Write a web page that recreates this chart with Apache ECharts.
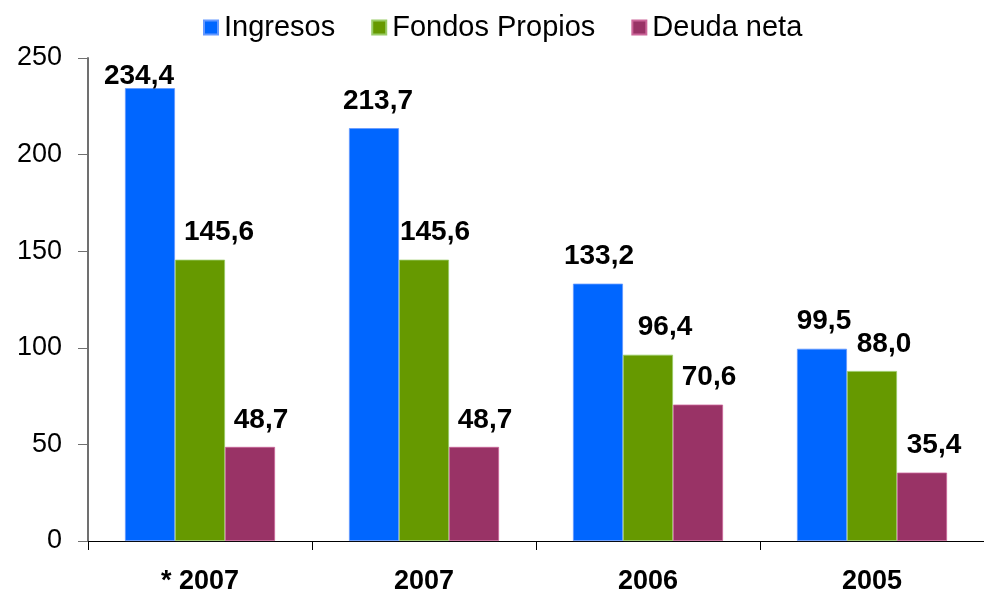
<!DOCTYPE html>
<html>
<head>
<meta charset="utf-8">
<script src="https://cdn.jsdelivr.net/npm/echarts@6/dist/echarts.min.js"></script>
<style>
html,body{margin:0;padding:0;background:#fff}
#main{width:984px;height:595px}
</style>
</head>
<body>
<div id="main"></div>
<script>
'use strict'
// datos
var categorias = ['* 2007', '2007', '2006', '2005']
var ingresos = [234.4, 213.7, 133.2, 99.5]
var fondosPropios = [145.6, 145.6, 96.4, 88.0]
var deudaNeta = [48.7, 48.7, 70.6, 35.4]
var yTicks = [0, 50, 100, 150, 200, 250]

// desplazamiento de etiquetas (como en el original de Excel)
var despIngresos = [[-11, 15], [4, 0], [1, 0], [2, 0]]
var despFondos = [[19, 0], [11, 0], [17, 0], [12, 0]]
var despDeuda = [[11, 0], [11, 0], [11, 0], [12, 0]]

var fuente = 'Liberation Sans, Arial, sans-serif'

function etiqueta(p) {
    return p.value.toFixed(1).replace('.', ',')
}

function serie(nombre, datos, desp, color, borde) {
    return {
        name: nombre,
        type: 'bar',
        data: datos.map(function (v, i) {
            return { value: v, label: { offset: desp[i] } }
        }),
        barGap: '0%',
        barCategoryGap: '33%',
        itemStyle: { color: color, borderColor: borde, borderWidth: 0.8 },
        label: {
            show: true,
            position: 'top',
            distance: 13,
            formatter: etiqueta,
            color: '#000',
            fontFamily: fuente,
            fontWeight: 'bold',
            fontSize: 28
        }
    }
}

var myChart = echarts.init(document.getElementById('main'))
var option = {
    animation: false,
    textStyle: { fontFamily: fuente },
    legend: {
        left: 203,
        top: 13,
        padding: 0,
        itemWidth: 14,
        itemHeight: 14,
        itemGap: 36,
        icon: 'rect',
        textStyle: { fontSize: 29, color: '#000', fontFamily: fuente, padding: [0, 0, 0, 1] },
        data: ['Ingresos', 'Fondos Propios', 'Deuda neta']
    },
    grid: { left: 88, right: 0, top: 58, bottom: 54, containLabel: false, outerBoundsMode: 'none' },
    xAxis: {
        type: 'category',
        data: categorias,
        axisLine: { lineStyle: { color: '#000', width: 1 } },
        axisTick: { show: true, length: 9, lineStyle: { color: '#000' } },
        axisLabel: {
            margin: 27,
            color: '#000',
            fontWeight: 'bold',
            fontSize: 27,
            fontFamily: fuente
        }
    },
    yAxis: {
        type: 'value',
        min: yTicks[0],
        max: yTicks[yTicks.length - 1],
        interval: 50,
        splitLine: { show: false },
        axisLine: { show: true, lineStyle: { color: '#707070', width: 2 } },
        axisTick: { show: true, length: 10, lineStyle: { color: '#707070' } },
        axisLabel: {
            margin: 26,
            color: '#000',
            fontSize: 27,
            fontFamily: fuente,
            padding: [6, 0, 0, 0]
        }
    },
    series: [
        serie('Ingresos', ingresos, despIngresos, '#0066FF', '#6699FF'),
        serie('Fondos Propios', fondosPropios, despFondos, '#669900', '#99CC66'),
        serie('Deuda neta', deudaNeta, despDeuda, '#993366', '#CC6699')
    ]
}
myChart.setOption(option)
</script>
</body>
</html>
